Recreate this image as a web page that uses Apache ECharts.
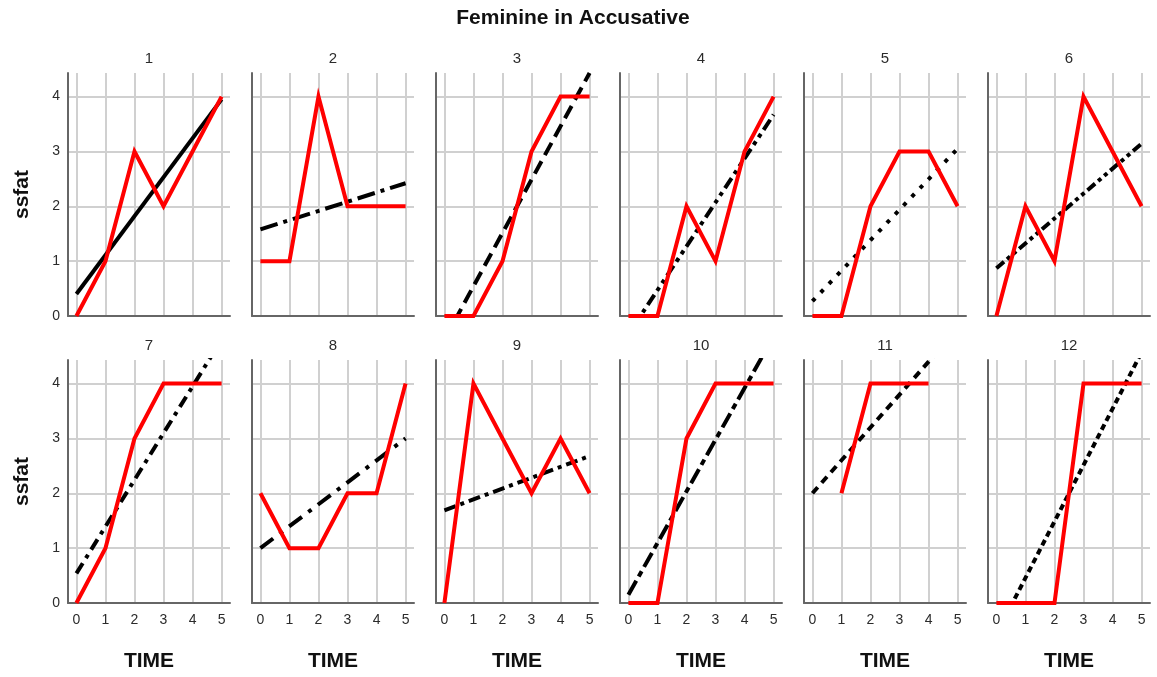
<!DOCTYPE html>
<html>
<head>
<meta charset="utf-8">
<script src="https://cdn.jsdelivr.net/npm/echarts@6/dist/echarts.min.js"></script>
<style>
  html, body { margin: 0; padding: 0; background: #ffffff; }
  #chart { width: 1157px; height: 677px; }
</style>
</head>
<body>
<div id="chart"></div>
<script>
// Measurement occasions on the x axis
const times = [0, 1, 2, 3, 4, 5];
const timeTicks = [0, 1, 2, 3, 4, 5];
const ssfatTicks = [0, 1, 2, 3, 4];
const panelNames = ['1', '2', '3', '4', '5', '6', '7', '8', '9', '10', '11', '12'];

// Observed ssfat per subject (null = not measured)
const ssfat1  = [0, 1, 3, 2, 3, 4];
const ssfat2  = [1, 1, 4, 2, 2, 2];
const ssfat3  = [0, 0, 1, 3, 4, 4];
const ssfat4  = [0, 0, 2, 1, 3, 4];
const ssfat5  = [0, 0, 2, 3, 3, 2];
const ssfat6  = [0, 2, 1, 4, 3, 2];
const ssfat7  = [0, 1, 3, 4, 4, 4];
const ssfat8  = [2, 1, 1, 2, 2, 4];
const ssfat9  = [0, 4, 3, 2, 3, 2];
const ssfat10 = [0, 0, 3, 4, 4, 4];
const ssfat11 = [null, 2, 4, 4, 4, null];
const ssfat12 = [0, 0, 0, 4, 4, 4];

// Fitted trend per subject: value at TIME 0 and at TIME 5
const fitAt0 = [0.40, 1.58, -0.43, -0.33, 0.27, 0.87, 0.54, 1.00, 1.69, 0.15, 2.00, -0.57];
const fitAt5 = [3.95, 2.42, 4.43, 3.67, 3.05, 3.14, 4.80, 3.00, 2.68, 4.86, 5.00, 4.57];

const observed = [ssfat1, ssfat2, ssfat3, ssfat4, ssfat5, ssfat6,
                  ssfat7, ssfat8, ssfat9, ssfat10, ssfat11, ssfat12];

// Each subject's trend line gets its own stroke pattern
const fitDash = [
  'solid',
  [18, 6, 4, 6],
  [14, 7],
  [12, 5, 4, 5, 4, 5],
  [4, 8],
  [10, 4, 4, 4, 4, 4],
  [12, 6, 4, 6],
  [16, 8, 4, 8],
  [12, 5, 4, 5],
  [16, 5, 6, 5],
  [8, 6],
  [6, 4]
];

const FONT = "'Liberation Sans', Arial, sans-serif";
const TEXT = '#2b2b2b';
const GRID_LINE = '#d0d0d0';
const AXIS_LINE = '#666666';

const chart = echarts.init(document.getElementById('chart'), null, { renderer: 'canvas' });

const grids = [], xAxes = [], yAxes = [], series = [];
const titles = [{
  text: 'Feminine in Accusative',
  left: 573, top: 8, textAlign: 'center', padding: 0,
  textStyle: { fontFamily: FONT, fontSize: 21, fontWeight: 'bold', color: '#111' }
}];

const PANEL_W = 162, PANEL_H = 243, STEP_X = 184;
const ROW_TOP = [73, 360];

observed.forEach((vals, i) => {
  const row = Math.floor(i / 6), col = i % 6;
  const left = 68 + STEP_X * col;
  const top = ROW_TOP[row];
  grids.push({ left: left, top: top, width: PANEL_W, height: PANEL_H, containLabel: false });

  titles.push({
    text: panelNames[i],
    left: left + PANEL_W / 2, top: top - 22, textAlign: 'center', padding: 0,
    textStyle: { fontFamily: FONT, fontSize: 15, fontWeight: 'normal', color: TEXT }
  });

  xAxes.push({
    type: 'value', gridIndex: i, min: -0.29, max: 5.29,
    name: row === 1 ? 'TIME' : '',
    nameLocation: 'middle', nameGap: 48,
    nameTextStyle: { fontFamily: FONT, fontSize: 21, fontWeight: 'bold', color: '#111' },
    axisLine: { show: true, onZero: false, lineStyle: { color: AXIS_LINE, width: 2 } },
    axisTick: { show: false, customValues: timeTicks },
    axisLabel: {
      show: row === 1, customValues: timeTicks, margin: 10,
      fontFamily: FONT, fontSize: 14, color: TEXT
    },
    splitLine: { show: true, lineStyle: { color: GRID_LINE, width: 2 } }
  });

  yAxes.push({
    type: 'value', gridIndex: i, min: 0, max: 4.43,
    name: col === 0 ? 'ssfat' : '',
    nameLocation: 'middle', nameGap: 35,
    nameTextStyle: { fontFamily: FONT, fontSize: 21, fontWeight: 'bold', color: '#111' },
    axisLine: { show: true, onZero: false, lineStyle: { color: AXIS_LINE, width: 2 } },
    axisTick: { show: false, customValues: ssfatTicks },
    axisLabel: {
      show: col === 0, customValues: ssfatTicks, margin: 8,
      fontFamily: FONT, fontSize: 14, color: TEXT
    },
    splitLine: { show: true, lineStyle: { color: GRID_LINE, width: 2 } }
  });

  // fitted trend line (black), clipped to the panel
  series.push({
    type: 'line', xAxisIndex: i, yAxisIndex: i,
    data: [[0, fitAt0[i]], [5, fitAt5[i]]],
    showSymbol: false, silent: true, clip: true, z: 3,
    lineStyle: { color: '#000000', width: 4, type: fitDash[i], cap: 'butt' }
  });

  // observed values (red)
  series.push({
    type: 'line', xAxisIndex: i, yAxisIndex: i,
    data: times.map((t, k) => [t, vals[k]]).filter(p => p[1] !== null),
    showSymbol: false, silent: true, clip: false, z: 4,
    lineStyle: { color: '#ff0000', width: 4, join: 'miter', miterLimit: 10 }
  });
});

chart.setOption({
  backgroundColor: '#ffffff',
  animation: false,
  title: titles,
  grid: grids,
  xAxis: xAxes,
  yAxis: yAxes,
  series: series
});
</script>
</body>
</html>
